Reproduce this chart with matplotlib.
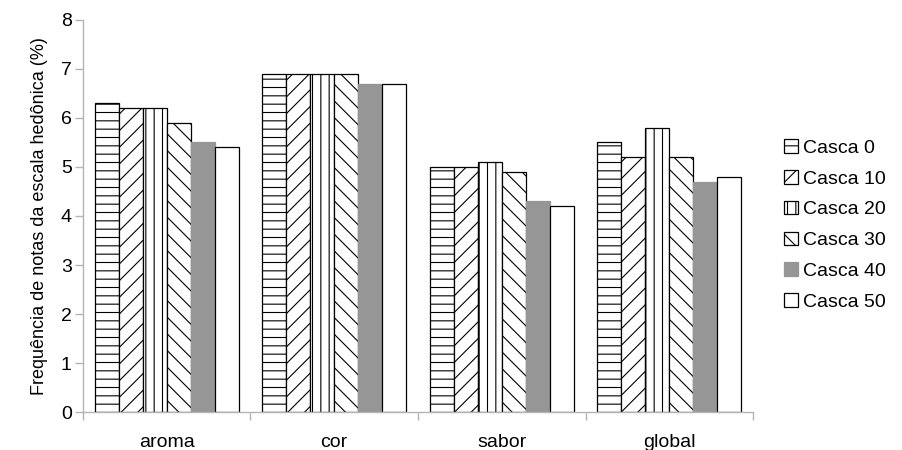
import matplotlib
matplotlib.use("Agg")
import matplotlib.pyplot as plt
import numpy as np

categories = ["aroma", "cor", "sabor", "global"]
series_names = ["Casca 0", "Casca 10", "Casca 20", "Casca 30", "Casca 40", "Casca 50"]
casca_0 = [6.3, 6.9, 5.0, 5.5]
casca_10 = [6.2, 6.9, 5.0, 5.2]
casca_20 = [6.2, 6.9, 5.1, 5.8]
casca_30 = [5.9, 6.9, 4.9, 5.2]
casca_40 = [5.5, 6.7, 4.3, 4.7]
casca_50 = [5.4, 6.7, 4.2, 4.8]
y_ticks = [0, 1, 2, 3, 4, 5, 6, 7, 8]

series = [casca_0, casca_10, casca_20, casca_30, casca_40, casca_50]
styles = [
    dict(facecolor="white", edgecolor="black", hatch="--"),
    dict(facecolor="white", edgecolor="black", hatch="//"),
    dict(facecolor="white", edgecolor="black", hatch="||"),
    dict(facecolor="white", edgecolor="black", hatch="\\\\"),
    dict(facecolor="#969696", edgecolor="#969696", hatch=None),
    dict(facecolor="white", edgecolor="black", hatch=None),
]

plt.rcParams["font.family"] = ["Liberation Sans", "DejaVu Sans"]
plt.rcParams["hatch.linewidth"] = 0.8

fig = plt.figure(figsize=(9.03, 4.5), dpi=100)
ax = fig.add_axes([0.0919, 0.0844, 0.742, 0.8712])

n = len(series)
width = 0.143
centers = np.arange(len(categories)) + 0.5
for i, (vals, name, st) in enumerate(zip(series, series_names, styles)):
    offs = (i - (n - 1) / 2) * width
    ax.bar(centers + offs, vals, width=width, label=name, linewidth=0.9, **st)

ax.set_xlim(0, len(categories))
ax.set_ylim(0, 8)
ax.set_yticks(y_ticks)

# Category boundaries as major ticks, names on minor ticks at centers
ax.set_xticks(np.arange(len(categories) + 1))
ax.set_xticklabels([])
ax.set_xticks(centers, minor=True)
ax.set_xticklabels(categories, minor=True)

axis_gray = "#b4b4b4"
for side in ("top", "right"):
    ax.spines[side].set_visible(False)
for side in ("left", "bottom"):
    ax.spines[side].set_color(axis_gray)
    ax.spines[side].set_linewidth(1.0)

ax.tick_params(axis="x", which="major", length=6, color=axis_gray, width=1.0)
ax.tick_params(axis="x", which="minor", length=0, pad=16, labelsize=14)
ax.tick_params(axis="y", length=6, color=axis_gray, width=1.0, pad=2, labelsize=14)

ax.set_ylabel("Frequência de notas da escala hedônica (%)", fontsize=13, labelpad=9)

fig.legend(loc="center left", bbox_to_anchor=(0.86, 0.5), frameon=False,
           fontsize=14, handlelength=0.7, handleheight=0.7,
           handletextpad=0.25, labelspacing=0.68, borderaxespad=0)

fig.savefig("out.png", dpi=100)
